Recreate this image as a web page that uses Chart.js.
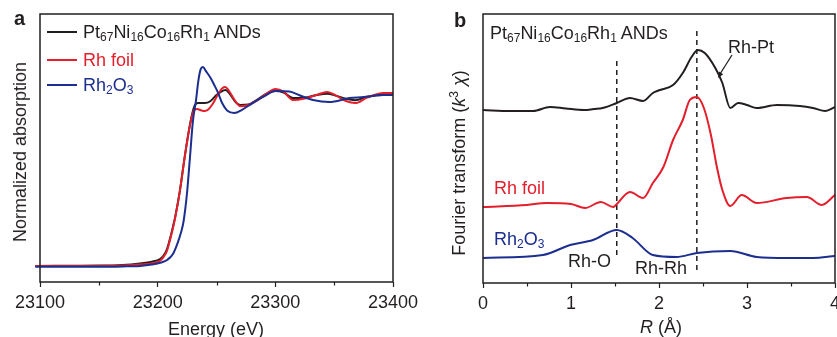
<!DOCTYPE html>
<html><head><meta charset="utf-8">
<script src="https://cdn.jsdelivr.net/npm/chart.js@4.4.1/dist/chart.umd.min.js"></script>
<style>
body{margin:0;background:#fff;}
#wrap{position:relative;width:837px;height:337px;overflow:hidden;font-family:"Liberation Sans",Arial,sans-serif;color:#231f20;}
canvas{position:absolute;top:0;}
.t{position:absolute;font-size:18px;line-height:18px;white-space:nowrap;}
.s{font-size:12px;position:relative;top:3px;}
.sup{font-size:12px;position:relative;top:-7px;}
.sw{position:absolute;height:2px;width:30px;}
.red{color:#e41e2b;} .blue{color:#1c2e8f;}
</style></head>
<body><div id="wrap">
<canvas id="ca" width="418" height="337" style="left:0"></canvas>
<canvas id="cb" width="419" height="337" style="left:418px"></canvas>

<div class="t" style="left:14px;top:8px;font-size:20px;line-height:20px;font-weight:bold">a</div>
<div class="t" style="left:454px;top:10px;font-size:20px;line-height:20px;font-weight:bold">b</div>

<div class="sw" style="left:47px;top:31px;background:#231f20"></div>
<div class="sw" style="left:47px;top:59px;background:#e41e2b"></div>
<div class="sw" style="left:47px;top:84px;background:#1c2e8f"></div>
<div class="t" style="left:83px;top:23px">Pt<span class="s">67</span>Ni<span class="s">16</span>Co<span class="s">16</span>Rh<span class="s">1</span> ANDs</div>
<div class="t red" style="left:83px;top:50.5px">Rh foil</div>
<div class="t blue" style="left:83px;top:75.5px">Rh<span class="s">2</span>O<span class="s">3</span></div>

<div class="t" style="left:490px;top:24px">Pt<span class="s">67</span>Ni<span class="s">16</span>Co<span class="s">16</span>Rh<span class="s">1</span> ANDs</div>
<div class="t" style="left:728px;top:37.5px">Rh-Pt</div>
<div class="t red" style="left:494px;top:179px">Rh foil</div>
<div class="t blue" style="left:494px;top:230px">Rh<span class="s">2</span>O<span class="s">3</span></div>
<div class="t" style="left:568px;top:251.5px">Rh-O</div>
<div class="t" style="left:635px;top:259px">Rh-Rh</div>

<div class="t" style="left:216px;top:320px;transform:translateX(-50%)">Energy (eV)</div>
<div class="t" style="left:661px;top:318px;transform:translateX(-50%)"><i>R</i> (Å)</div>
<div class="t" style="left:20px;top:152px;transform:translate(-50%,-50%) rotate(-90deg)">Normalized absorption</div>
<div class="t" style="left:460px;top:163px;transform:translate(-50%,-50%) rotate(-90deg)">Fourier transform (<i>k</i><span class="sup">3</span> <i>χ</i>)</div>

<svg width="837" height="337" style="position:absolute;left:0;top:0">
<line x1="732" y1="55" x2="720" y2="74" stroke="#231f20" stroke-width="1.3"/>
<polygon points="718,78 723.2,74.2 719,71.6" fill="#231f20"/>
</svg>
</div>
<script>
// ---- Panel a: XANES (Rh K-edge) ----
const energyAND = [23096,23150,23170,23185,23195,23202,23205,23208,23210.5,23213,23215,23219,23223,23227.5,23231,23234,23240,23245,23250,23254,23257.5,23262,23266,23270,23277,23285,23293,23300,23307,23315,23325,23335,23344,23352,23360,23368,23378,23392,23400];
const muAND     = [0,0.002,0.006,0.015,0.025,0.04,0.06,0.1,0.16,0.23,0.29,0.445,0.64,0.83,0.93,0.953,0.953,0.965,1.0,1.02,1.029,1.0,0.96,0.942,0.945,0.975,1.01,1.023,1.015,0.982,0.985,1.0,1.008,0.995,0.978,0.97,0.99,1.0,1.0];
const energyFoil = [23096,23150,23170,23185,23195,23202,23205,23208,23210.5,23213,23215,23219,23223,23227.5,23231,23233.5,23237,23240,23243,23247,23251,23255,23257.5,23260,23265,23270,23277,23285,23293,23300,23307,23315,23325,23335,23344,23352,23360,23368,23378,23392,23400];
const muFoil     = [0,0,0.002,0.008,0.015,0.03,0.053,0.09,0.152,0.22,0.287,0.444,0.637,0.825,0.912,0.918,0.91,0.906,0.915,0.95,1.0,1.04,1.047,1.03,0.975,0.935,0.942,0.97,1.01,1.035,1.02,0.971,0.98,1.0,1.018,0.995,0.965,0.953,0.985,1.012,1.012];
const energyOxide = [23096,23150,23170,23185,23195,23203,23208,23213,23217,23220,23222,23225,23227.5,23230,23232.6,23234.5,23236.5,23238.5,23241,23245,23248,23251,23255,23259,23265,23272,23280,23290,23300,23312,23320,23332,23346,23363,23375,23390,23400];
const muOxide     = [-0.005,-0.005,-0.003,0,0.008,0.02,0.035,0.07,0.135,0.2,0.26,0.43,0.64,0.85,0.97,1.08,1.15,1.164,1.14,1.1,1.06,1.018,0.95,0.91,0.895,0.915,0.95,0.99,1.023,1.02,1.0,0.971,0.959,0.982,0.988,1.0,1.0];
const energyTickLabels = [23100,23200,23300,23400];

// ---- Panel b: FT-EXAFS ----
const rAND  = [0,0.31,0.57,0.76,0.94,1.15,1.26,1.36,1.52,1.67,1.82,1.93,2.01,2.16,2.27,2.37,2.44,2.52,2.64,2.72,2.81,2.90,3.0,3.11,3.34,3.60,3.75,3.89,4.0];
const ftAND = [1.73,1.72,1.72,1.76,1.745,1.73,1.74,1.75,1.80,1.85,1.82,1.90,1.93,1.98,2.10,2.26,2.33,2.30,2.15,2.00,1.75,1.80,1.78,1.75,1.78,1.77,1.75,1.72,1.76];
const rFoil  = [0,0.5,0.72,1.0,1.16,1.34,1.48,1.51,1.67,1.82,1.93,2.05,2.16,2.27,2.35,2.43,2.51,2.59,2.66,2.72,2.81,2.94,3.11,3.45,3.68,3.85,4.0];
const ftFoil = [0.76,0.78,0.80,0.79,0.75,0.81,0.76,0.78,0.91,0.85,1.00,1.16,1.43,1.63,1.83,1.86,1.75,1.48,1.15,0.93,0.77,0.88,0.80,0.85,0.86,0.78,0.88];
const rOxide  = [0,0.68,0.99,1.25,1.52,1.70,1.93,2.20,2.43,2.81,3.11,3.45,3.75,4.0];
const ftOxide = [0.25,0.28,0.38,0.43,0.53,0.45,0.28,0.26,0.30,0.32,0.26,0.25,0.25,0.27];
const bondR = [1.52, 2.43];
const bondLineTop = [2.23, 2.56];
const bondLineBottom = [0.28, 0.13];
const rTickLabels = [0,1,2,3,4];

const INK = '#231f20', RED = '#e41e2b', BLUE = '#1c2e8f';
const zip = (xs, ys) => xs.map((x, i) => ({x, y: ys[i]}));

const frame = {
  id: 'frame',
  afterDraw(chart, args, opts) {
    const {ctx, chartArea: a} = chart;
    const xs = chart.scales.x;
    ctx.save(); ctx.strokeStyle = INK; ctx.lineWidth = 1.2;
    // minor ticks midway between labelled ticks
    const step = opts.step;
    for (let v = xs.min + step / 2; v < xs.max; v += step) {
      const px = Math.round(xs.getPixelForValue(v)) + 0.5;
      ctx.beginPath(); ctx.moveTo(px, a.bottom); ctx.lineTo(px, a.bottom + 3.5); ctx.stroke();
    }
    ctx.lineWidth = 1.5;
    ctx.strokeRect(a.left, a.top, a.right - a.left, a.bottom - a.top);
    ctx.restore();
  }
};

function line(data, color, order, extra) {
  return Object.assign({data, borderColor: color, borderWidth: 2, pointRadius: 0,
    cubicInterpolationMode: 'monotone', fill: false, order, clip: false}, extra || {});
}

function makeOptions(xmin, xmax, step, labels, ymin, ymax, yWidth, xHeight, padRight) {
  return {
    responsive: false, animation: false, devicePixelRatio: 1,
    layout: {padding: {top: 14, right: padRight, left: 0, bottom: 0}},
    plugins: {legend: {display: false}, tooltip: {enabled: false}, frame: {step}},
    scales: {
      x: {type: 'linear', min: xmin, max: xmax,
        border: {display: false},
        grid: {drawOnChartArea: false, drawTicks: true, tickLength: 5, color: INK, tickWidth: 1.2},
        ticks: {stepSize: step, autoSkip: false, maxRotation: 0, padding: 5, color: INK,
          font: {family: 'Liberation Sans', size: 18},
          callback: v => labels.some(l => Math.abs(l - v) < 1e-9) ? String(v) : ''},
        afterFit(s) { s.height = xHeight; s.paddingLeft = 0; s.paddingRight = 0; }
      },
      y: {min: ymin, max: ymax, border: {display: false}, grid: {display: false},
        ticks: {display: false},
        afterFit(s) { s.width = yWidth; s.paddingTop = 0; s.paddingBottom = 0; }
      }
    }
  };
}

new Chart(document.getElementById('ca'), {
  type: 'line',
  data: {datasets: [
    line(zip(energyOxide, muOxide), BLUE, 1),
    line(zip(energyFoil, muFoil), RED, 2),
    line(zip(energyAND, muAND), INK, 3)
  ]},
  options: makeOptions(23100, 23400, 100, energyTickLabels, -0.094, 1.474, 40, 55, 25),
  plugins: [frame]
});

const dashSets = bondR.map((r, i) => line([{x: r, y: bondLineBottom[i]}, {x: r, y: bondLineTop[i]}], INK, 5,
  {borderWidth: 1.5, borderDash: [5, 4], cubicInterpolationMode: 'default', tension: 0}));

new Chart(document.getElementById('cb'), {
  type: 'line',
  data: {datasets: [
    line(zip(rAND, ftAND), INK, 1),
    line(zip(rFoil, ftFoil), RED, 2),
    line(zip(rOxide, ftOxide), BLUE, 3),
    ...dashSets
  ]},
  options: makeOptions(0, 4, 1, rTickLabels, 0, 2.69, 65, 54, 2),
  plugins: [frame]
});
</script>
</body></html>
